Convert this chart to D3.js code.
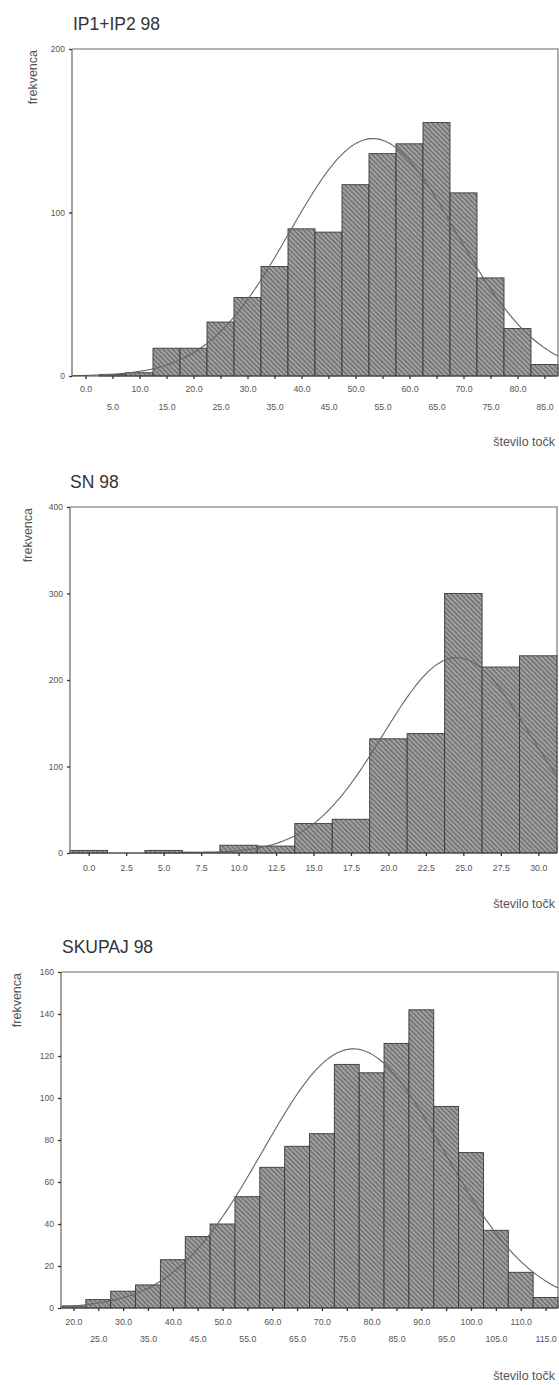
<!DOCTYPE html>
<html><head><meta charset="utf-8">
<script src="https://cdn.jsdelivr.net/npm/d3@7"></script>
<style>body{margin:0;background:#fff}svg{display:block}</style>
</head><body>
<svg id="c" width="559" height="1385"></svg>
<script>
// ---------- data ----------
const ip1Title = "IP1+IP2 98";
const ip1Centers = [0,5,10,15,20,25,30,35,40,45,50,55,60,65,70,75,80,85];
const ip1Counts  = [0,1,2,17,17,33,48,67,90,88,117,136,142,155,112,60,29,7];
const ip1YTicks  = [0,100,200];
const ip1Fit     = {mean:53.2, sd:15.4};

const snTitle   = "SN 98";
const snCenters = [0,2.5,5,7.5,10,12.5,15,17.5,20,22.5,25,27.5,30];
const snCounts  = [3,0,3,1,9,8,34,39,132,138,300,215,228];
const snYTicks  = [0,100,200,300,400];
const snFit     = {mean:24.55, sd:4.9};

const skTitle   = "SKUPAJ 98";
const skCenters = [20,25,30,35,40,45,50,55,60,65,70,75,80,85,90,95,100,105,110,115];
const skCounts  = [1,4,8,11,23,34,40,53,67,77,83,116,112,126,142,96,74,37,17,5];
const skYTicks  = [0,20,40,60,80,100,120,140,160];
const skFit     = {mean:76.3, sd:18.2};

const yLabel = "frekvenca";
const xLabel = "število točk";

// ---------- layout ----------
const charts = [
  {title:ip1Title, centers:ip1Centers, counts:ip1Counts, yTicks:ip1YTicks, fit:ip1Fit,
   L:72, R:558, T:49, B:376, titleX:73, titleY:30, rows:[13,31], yLabX:33, xLabY:446},
  {title:snTitle, centers:snCenters, counts:snCounts, yTicks:snYTicks, fit:snFit,
   L:70, R:557, T:507, B:853, titleX:70, titleY:488, rows:[15], yLabX:28, xLabY:908},
  {title:skTitle, centers:skCenters, counts:skCounts, yTicks:skYTicks, fit:skFit,
   L:61, R:558, T:972, B:1308, titleX:62, titleY:953, rows:[14,31], yLabX:17, xLabY:1380}
];

const svg = d3.select("#c");
const defs = svg.append("defs");
const pat = defs.append("pattern").attr("id","hatch").attr("patternUnits","userSpaceOnUse")
  .attr("width",3.4).attr("height",3.4).attr("patternTransform","rotate(-45)");
pat.append("rect").attr("width",3.4).attr("height",3.4).attr("fill","#a2a2a2");
pat.append("line").attr("x1",0.8).attr("y1",0).attr("x2",0.8).attr("y2",3.4)
  .attr("stroke","#5e5e5e").attr("stroke-width",1.1);

const FONT = "Arial, 'Liberation Sans', sans-serif";

charts.forEach(c => {
  const step = c.centers[1]-c.centers[0];
  const lo = c.centers[0]-step/2, hi = c.centers[c.centers.length-1]+step/2;
  const x = d3.scaleLinear().domain([lo,hi]).range([c.L,c.R]);
  const yMax = c.yTicks[c.yTicks.length-1];
  const y = d3.scaleLinear().domain([0,yMax]).range([c.B,c.T]);
  const g = svg.append("g");

  // title
  g.append("text").attr("x",c.titleX).attr("y",c.titleY).text(c.title)
    .attr("font-family",FONT).attr("font-size",17.5).attr("fill","#333");

  // frame
  g.append("path").attr("d",`M${c.L},${c.T}H${c.R}V${c.B}`)
    .attr("fill","none").attr("stroke","#9a9a9a").attr("stroke-width",1.6);

  // bars
  g.selectAll("rect.bar").data(c.centers).join("rect").attr("class","bar")
    .attr("x",d=>x(d-step/2)).attr("width",d=>x(d+step/2)-x(d-step/2))
    .attr("y",(d,i)=>y(c.counts[i])).attr("height",(d,i)=>c.B-y(c.counts[i]))
    .attr("fill","url(#hatch)").attr("stroke","#3a3a3a").attr("stroke-width",0.9);

  // normal fit curve
  const n = d3.sum(c.counts);
  const k = n*step/(c.fit.sd*Math.sqrt(2*Math.PI));
  const xs = d3.range(0,201).map(i=>lo+(hi-lo)*i/200);
  const line = d3.line().x(v=>x(v)).y(v=>y(k*Math.exp(-0.5*((v-c.fit.mean)/c.fit.sd)**2)));
  g.append("path").datum(xs).attr("d",line).attr("fill","none")
    .attr("stroke","#666").attr("stroke-width",1.1);

  // left axis
  const ya = g.append("g").attr("transform",`translate(${c.L},0)`)
    .call(d3.axisLeft(y).tickValues(c.yTicks).tickSize(3).tickPadding(4));
  ya.select(".domain").attr("stroke","#8a8a8a").attr("stroke-width",1.6).attr("d",`M0,${c.T}V${c.B}`);
  ya.selectAll(".tick line").attr("stroke","#333").attr("stroke-width",1.3);
  ya.selectAll(".tick text").attr("font-family",FONT).attr("font-size",8.5).attr("fill","#555");

  // bottom axis
  const xa = g.append("g").attr("transform",`translate(0,${c.B})`)
    .call(d3.axisBottom(x).tickValues(c.centers).tickSize(3).tickFormat(d=>d.toFixed(1)));
  xa.select(".domain").attr("stroke","#444").attr("stroke-width",1.2).attr("d",`M${c.L},0H${c.R}`);
  xa.selectAll(".tick line").attr("stroke","#333").attr("stroke-width",1.3);
  xa.selectAll(".tick text").attr("font-family",FONT).attr("font-size",8.8).attr("fill","#555")
    .attr("dy","0.35em").attr("y",(d,i)=>c.rows[i%c.rows.length]);

  // axis titles
  g.append("text").attr("transform",`translate(${c.yLabX},${c.T+1}) rotate(-90)`)
    .attr("text-anchor","end").attr("dy","0.35em").text(yLabel)
    .attr("font-family",FONT).attr("font-size",12.5).attr("fill","#555");
  g.append("text").attr("x",555).attr("y",c.xLabY).attr("text-anchor","end").text(xLabel)
    .attr("font-family",FONT).attr("font-size",12.5).attr("fill","#555");
});
</script>
</body></html>
